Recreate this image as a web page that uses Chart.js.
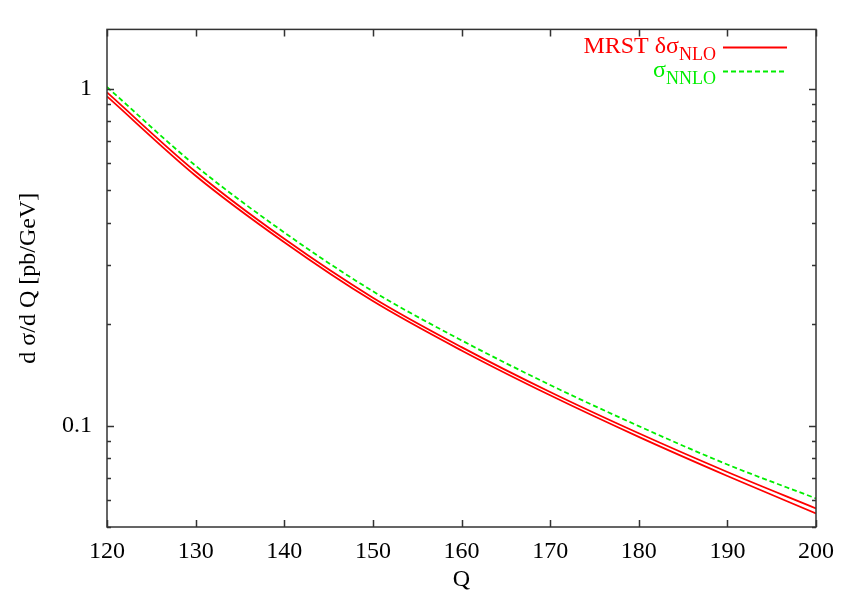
<!DOCTYPE html>
<html>
<head>
<meta charset="utf-8">
<script src="https://cdn.jsdelivr.net/npm/chart.js@4/dist/chart.umd.min.js"></script>
<style>
  body { margin: 0; background: #fff; }
  canvas { display: block; }
</style>
</head>
<body>
<canvas id="chart" width="856" height="599"></canvas>
<script>
// === Data ===
const qValues   = [120, 130, 140, 150, 160, 170, 180, 190, 200];
const mrstUpper = [0.9751, 0.5671, 0.3584, 0.2397, 0.1710, 0.1258, 0.09488, 0.07283, 0.05679];
const mrstLower = [0.9489, 0.5518, 0.3502, 0.2342, 0.1671, 0.1230, 0.09259, 0.07087, 0.05488];
const nnlo      = [1.0117, 0.5907, 0.3744, 0.2505, 0.1791, 0.1320, 0.09966, 0.07665, 0.06079];

const xTicks = [120, 130, 140, 150, 160, 170, 180, 190, 200];
const yLabelTicks = [0.1, 1];
const yMin = 0.05, yMax = 1.5;

const FONT = "'Liberation Serif', 'Times New Roman', serif";
const RED = "#ff0000";
const GREEN = "#00ee00";

const toPoints = ys => qValues.map((q, i) => ({ x: q, y: ys[i] }));

// === Frame, inward ticks and legend ===
const framePlugin = {
  id: "frame",
  afterDraw(chart) {
    const { ctx, chartArea: a, scales } = chart;
    const xs = scales.x, ys = scales.y;
    ctx.save();
    ctx.strokeStyle = "#333";
    ctx.lineWidth = 1.5;

    ctx.beginPath();
    xTicks.forEach(v => {
      const px = Math.round(xs.getPixelForValue(v)) + 0.5;
      ctx.moveTo(px, a.bottom); ctx.lineTo(px, a.bottom - 7);
      ctx.moveTo(px, a.top); ctx.lineTo(px, a.top + 7);
    });
    for (let d = 0.01; d <= 1; d *= 10) {
      for (let m = 1; m <= 9; m++) {
        const v = m * d;
        if (v < yMin || v > yMax) continue;
        const py = Math.round(ys.getPixelForValue(v)) + 0.5;
        const len = m === 1 ? 7 : 4;
        ctx.moveTo(a.left, py); ctx.lineTo(a.left + len, py);
        ctx.moveTo(a.right, py); ctx.lineTo(a.right - len, py);
      }
    }
    ctx.stroke();
    ctx.strokeRect(a.left, a.top, a.right - a.left, a.bottom - a.top);

    // legend with subscripts
    const drawEntry = (main, sub, color, baseline, lineY, dash) => {
      ctx.fillStyle = color;
      ctx.font = "24px " + FONT;
      const wMain = ctx.measureText(main).width;
      ctx.font = "18px " + FONT;
      const wSub = ctx.measureText(sub).width;
      const right = 716;
      ctx.font = "24px " + FONT;
      ctx.textAlign = "left";
      ctx.textBaseline = "alphabetic";
      ctx.fillText(main, right - wSub - wMain, baseline);
      ctx.font = "18px " + FONT;
      ctx.fillText(sub, right - wSub, baseline + 7);
      ctx.strokeStyle = color;
      ctx.lineWidth = 1.8;
      ctx.setLineDash(dash);
      ctx.beginPath();
      ctx.moveTo(723, lineY); ctx.lineTo(787, lineY);
      ctx.stroke();
      ctx.setLineDash([]);
    };
    drawEntry("MRST \u03b4\u03c3", "NLO", RED, 53, 47.5, []);
    drawEntry("\u03c3", "NNLO", GREEN, 77, 71.5, [5, 3]);
    ctx.restore();
  }
};

new Chart(document.getElementById("chart"), {
  type: "line",
  data: {
    datasets: [
      { label: "MRST upper", data: toPoints(mrstUpper), borderColor: RED, borderWidth: 1.8 },
      { label: "MRST lower", data: toPoints(mrstLower), borderColor: RED, borderWidth: 1.8 },
      { label: "NNLO", data: toPoints(nnlo), borderColor: GREEN, borderWidth: 1.8, borderDash: [5, 3] }
    ]
  },
  options: {
    responsive: false,
    animation: false,
    events: [],
    elements: {
      point: { radius: 0 },
      line: { cubicInterpolationMode: "monotone", fill: false }
    },
    layout: { padding: { top: 28, right: 40, left: 0, bottom: 0 } },
    plugins: { legend: { display: false }, tooltip: { enabled: false } },
    scales: {
      x: {
        type: "linear",
        min: 120, max: 200,
        afterBuildTicks: axis => { axis.ticks = xTicks.map(value => ({ value })); },
        afterFit: s => { s.height = 72; },
        grid: { display: false, drawTicks: false },
        border: { display: false },
        ticks: { padding: 10, color: "#000", font: { family: FONT, size: 24 }, maxRotation: 0 },
        title: { display: true, text: "Q", color: "#000", font: { family: FONT, size: 24 }, padding: { top: 0, bottom: 5 } }
      },
      y: {
        type: "logarithmic",
        min: yMin, max: yMax,
        afterBuildTicks: axis => { axis.ticks = yLabelTicks.map(value => ({ value })); },
        afterFit: s => { s.width = 107; },
        grid: { display: false, drawTicks: false },
        border: { display: false },
        ticks: { padding: 15, color: "#000", font: { family: FONT, size: 24 }, callback: v => String(v) },
        title: { display: true, text: "d \u03c3/d Q [pb/GeV]", color: "#000", font: { family: FONT, size: 24 }, padding: { top: 14, bottom: 0 } }
      }
    }
  },
  plugins: [framePlugin]
});
</script>
</body>
</html>
